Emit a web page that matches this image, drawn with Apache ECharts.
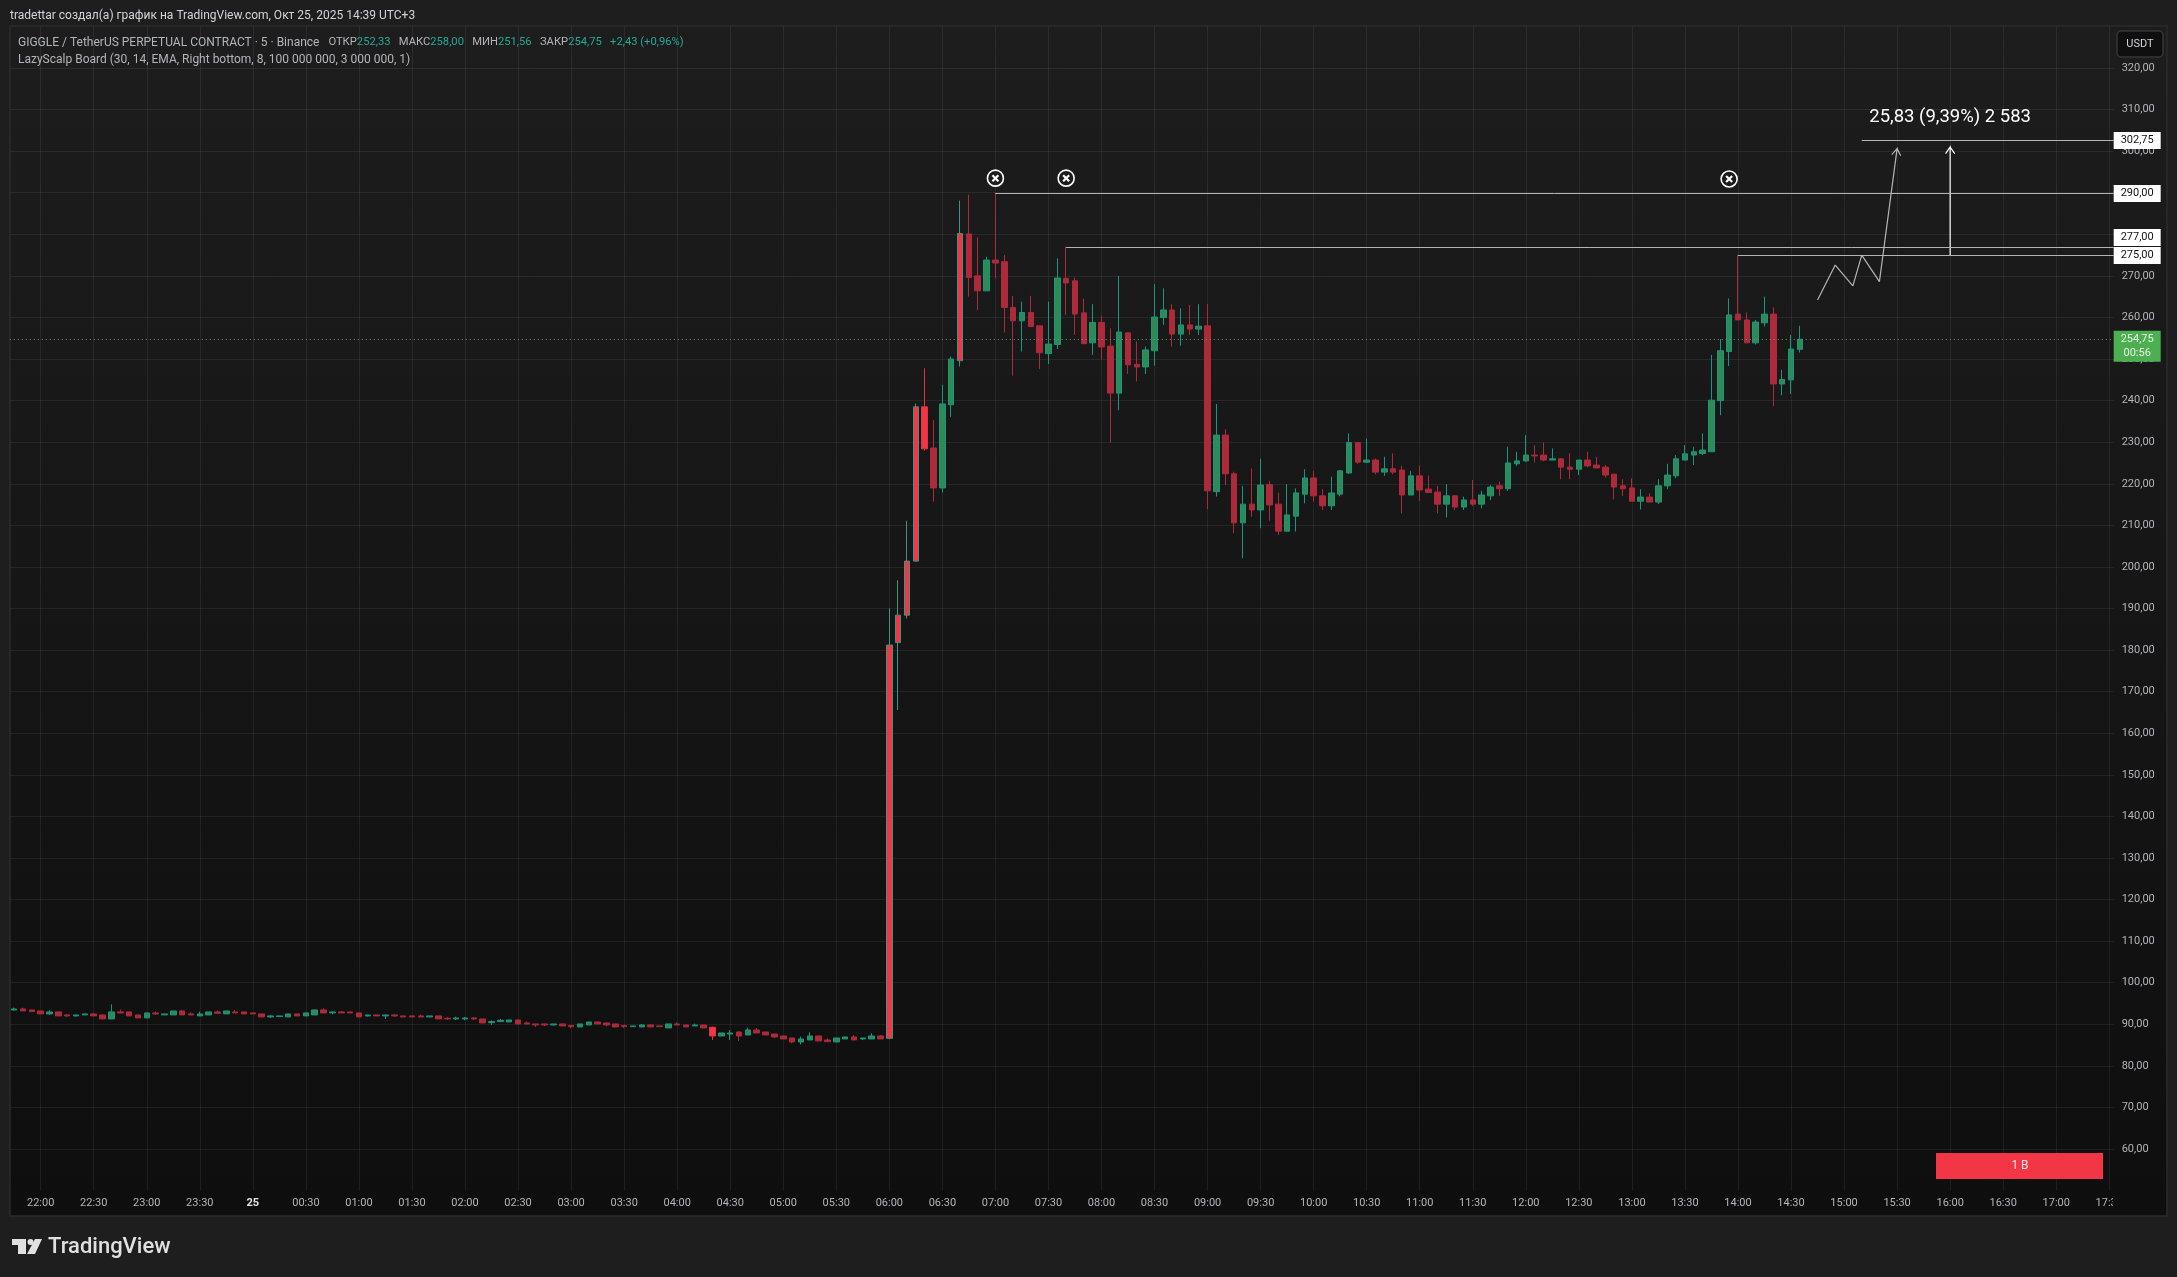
<!DOCTYPE html>
<html>
<head>
<meta charset="utf-8">
<style>
  html, body { margin: 0; padding: 0; background: #1e1e1e; }
  #chart { width: 2177px; height: 1277px; }
</style>
<script src="https://cdn.jsdelivr.net/npm/echarts@6/dist/echarts.min.js"></script>
</head>
<body>
<div id="chart"></div>
<script>
// 5 min bars, first one is 21:45
const barCount = 238
const startMinutes = 21 * 60 + 45

// g up, r down, h bright red, t bright red with teal edge
const barKinds = [
  'g','r','r','r','g','r','r','g','g','r',
  'r','g','r','r','r','g','r','g','g','r',
  'r','g','g','r','g','r','r','r','r','g',
  'g','g','r','g','g','r','g','r','r','r',
  'g','r','g','r','r','r','r','g','r','r',
  'g','g','r','r','g','g','g','r','r','r',
  'r','g','r','r','g','g','r','r','r','r',
  'g','g','r','r','g','r','r','g','r','h',
  'g','g','r','g','r','r','r','r','r','g',
  'g','r','r','g','g','r','g','g','r','t',
  't','t','t','h','r','g','g','t','r','r',
  'g','r','r','r','g','r','r','g','g','r',
  'r','r','g','r','r','g','r','r','g','g',
  'g','r','g','r','g','r','g','r','r','g',
  'r','g','r','r','g','g','g','r','r','g',
  'g','g','r','g','r','g','r','r','g','r',
  'r','r','g','r','g','r','g','g','r','g',
  'g','g','r','r','g','r','r','g','r','r',
  'r','r','r','r','g','r','g','g','g','g',
  'g','g','g','g','g','r','r','g','g','r',
  'g','g','g',
]
const bodyTop = [
  93.69,93.69,93.45,93.21,92.97,92.97,92.25,92.25,92.49,92.49,
  92.25,92.97,92.97,92.97,92.25,92.73,92.73,92.49,93.21,93.21,
  92.49,92.49,92.97,92.97,93.21,92.97,92.97,92.73,92.49,92.01,
  92.01,92.49,92.49,92.73,93.45,93.45,92.97,92.97,92.97,92.73,
  92.25,92.25,92.25,92.25,92.01,92.01,92.01,92.01,92.01,91.45,
  91.52,91.52,91.52,91.28,90.64,90.96,91.04,91.04,90.32,90.08,
  90.08,90.08,90.08,89.68,90.08,90.56,90.56,90.32,90.08,89.68,
  89.6,89.84,89.84,89.6,90.08,90.08,89.84,89.84,89.84,89.28,
  87.91,87.91,88.15,88.63,88.63,88.15,87.67,87.19,86.71,86.47,
  87.19,87.19,86.23,86.71,86.95,86.95,86.71,87.19,87.19,181.2,
  188.4,201.4,238.5,238.5,228.6,239.2,250,280.2,280.1,270,
  273.8,273.8,273.4,262.4,261.2,261.2,258,253.6,269.5,269.4,
  268.8,261.1,258.8,258.8,253.1,256.5,256.3,248.7,252.2,260.1,
  261.8,261.8,258.2,258.2,257.9,258,231.7,231.7,222.4,215.1,
  215.1,219.7,219.8,215.1,212.5,217.8,221.4,221.4,217.1,217.8,
  223.1,229.9,229.9,225.7,225.7,223.6,223.6,223.3,221.9,221.9,
  218.7,218,217.1,217.1,216.1,216.1,217.3,219.2,219.5,225,
  225.5,226.9,226.9,226.9,226,226,224,225.7,225.7,224.5,
  224,222.3,219.5,219,216.8,216.8,219.5,222.1,226,227.2,
  227.7,228.1,240.1,252,260.6,260.8,259.4,258.9,260.8,260.8,
  245.1,252.4,254.75,
]
const bodyBottom = [
  93.45,93.21,93.05,92.49,92.49,92.01,92.01,92.01,92.25,92.01,
  91.29,91.29,92.73,92.01,91.53,91.53,92.49,92.25,92.25,92.25,
  92.25,92.01,92.25,92.65,92.49,92.73,92.49,92.49,91.77,91.77,
  91.85,91.77,92.01,92.01,92.25,92.73,92.73,92.73,92.73,91.77,
  92.01,92.01,92.01,92.01,91.77,91.77,91.77,91.77,91.29,91.29,
  91.28,91.28,91.28,90.32,90.4,90.64,90.56,90.08,90.08,89.84,
  89.84,89.84,89.6,89.44,89.36,89.84,90.08,89.84,89.36,89.44,
  89.44,89.36,89.36,89.44,89.12,89.84,89.36,89.6,89.12,87.19,
  87.19,87.67,87.19,87.43,87.91,87.43,86.95,86.47,85.75,85.75,
  86.23,85.99,85.83,85.75,86.47,86.23,86.47,86.47,86.47,86.63,
  181.8,188.4,201.4,228.4,219,219,239,249.6,269.6,266.4,
  266.4,273.1,262.4,259.2,259.2,257.8,251.5,251.3,253.5,268.3,
  260.8,253.7,253.9,252.9,241.8,241.8,248.6,248.1,248.1,252,
  260,256,256,257.2,257.2,218.3,218.1,222.4,210.6,210.6,
  213.7,213.7,214.9,208.6,208.6,212.2,217.5,217.1,214.7,214.7,
  217.5,222.6,225.2,225.2,222.8,222.8,222.8,217.3,217.3,218.5,
  217.9,215.1,215.1,214.4,214.4,215.1,215.1,217.1,218.8,218.8,
  224.8,225.5,226.7,225.7,225.7,224,223.5,223.5,224.3,223.8,
  222.1,219.2,218.8,215.8,215.8,215.6,215.6,219.5,221.9,225.7,
  226.9,227.3,227.7,240,251.8,259.4,253.9,253.9,258.7,244,
  244,245,252.33,
]
const highs = [
  94.01,94.01,93.45,93.21,93.37,92.97,92.41,92.25,92.49,92.65,
  92.25,94.81,93.53,92.97,92.25,92.73,93.05,92.49,93.21,93.45,
  92.89,93.05,92.97,93.37,93.21,93.45,92.97,92.73,92.49,92.25,
  92.01,92.49,92.49,92.73,93.53,93.85,92.97,93.21,92.97,92.73,
  92.25,92.25,92.25,92.41,92.01,92.01,92.33,92.01,92.01,91.69,
  91.84,91.76,91.76,91.28,90.96,91.28,91.04,91.04,90.64,90.08,
  90.08,90.08,90.08,89.68,90.08,90.56,90.56,90.32,90.08,89.68,
  89.6,90,89.84,89.6,90.08,90.48,89.84,90.16,89.84,89.44,
  87.91,88.63,88.31,89.2,89.12,88.15,87.67,87.19,86.71,87.03,
  88.07,87.19,86.63,86.71,86.95,87.43,86.71,87.83,87.43,190,
  196.8,211.1,239.3,247.8,235.3,243.8,250.6,288.1,289.5,279.3,
  274.6,290,275,265.2,263.8,265.2,258,263.8,274.2,277,
  269.6,264.5,263.2,260.4,257.4,270,256.3,254.2,253,268,
  267,263.2,262.2,263,263.2,263.2,239.2,233.1,222.9,219.5,
  223.7,226,220.7,217.9,219.9,218.9,223.5,223.1,218.7,221.7,
  223.3,232.1,229.9,230.9,226.1,226.5,227.3,224.3,223.1,224.4,
  222,219.5,219.9,217.3,216.9,220.9,218.3,219.7,220.5,228.9,
  227.7,231.7,229.3,229.9,228.5,226.2,227.3,225.7,227.7,226.5,
  224.5,222.4,221.1,221.3,218.7,217.7,221.1,224.8,226.9,229.3,
  228.9,232.1,251,254.8,264.6,275,261.2,259.4,265,262.4,
  247.4,255.8,258,
]
const lows = [
  93.29,93.21,93.05,92.49,92.25,92.01,91.77,91.85,92.25,92.01,
  91.29,91.29,92.65,92.01,91.53,91.53,92.25,92.25,92.25,92.25,
  92.25,92.01,92.25,92.65,92.49,92.73,92.49,92.49,91.77,91.53,
  91.85,91.77,92.01,92.01,92.25,92.73,92.41,92.73,92.73,91.77,
  91.85,92.01,91.29,91.77,91.77,91.77,91.77,91.77,91.29,91.05,
  91.04,90.96,91.04,90.32,89.84,90.64,90.56,90.08,90.08,89.36,
  89.6,89.68,89.6,89.04,89.36,89.84,90.08,89.52,89.36,89.12,
  89.44,89.36,89.36,89.44,89.12,89.84,89.36,89.6,89.12,86.23,
  87.19,86.23,85.99,87.43,87.91,87.43,86.71,86.47,85.43,85.19,
  86.23,85.99,85.83,85.75,86.47,86.23,86.23,86.47,86.47,86.4,
  165.6,187.6,201.3,228,215.7,217.9,236.1,248.2,265,261.8,
  266.4,269.4,256.4,246,251.8,257.8,247.6,248.8,252.4,260.6,
  255.8,253.7,251,249.9,229.9,237.7,246.4,244.6,246.4,248.4,
  258.2,253,253.2,255.8,255.8,213.9,216.9,219.7,208.1,202.1,
  212.1,209.3,211.1,207.7,208.6,208.5,215.3,215.7,213.7,213.7,
  217,222.4,224.8,225,222.3,221.9,222.3,212.9,217.3,215.9,
  217.9,212.9,211.9,213.7,213.7,214.7,214.1,216.1,217.1,218.3,
  224.3,225.3,225.1,225.4,225.7,221.1,221.1,222.1,224,223.8,
  221.5,216.2,217.1,215.8,213.8,215.6,215.1,218.7,221.3,225.7,
  224.5,226.9,227.7,236.5,248.3,259.4,253.9,253.5,257.8,238.7,
  241.3,241.6,251.56,
]

// drawings on the chart
const lastPrice = 254.75
const lastCountdown = '00:56'
const levelStarts = ['07:00', '07:40', '14:00', '15:10']
const levelPrices = [290, 277, 275, 302.75]
const crossTimes = ['07:00', '07:40', '13:55']
const crossPrices = [293.5, 293.5, 293.3]
const zigzagTimes = ['14:45', '14:55', '15:05', '15:10', '15:20']
const zigzagPrices = [264.2, 272.6, 267.6, 275, 268.6]
const arrowFrom = [['15:20', 268.6], ['16:00', 275]]
const arrowTo = [['15:30', 300.6], ['16:00', 301]]
const noteText = '25,83 (9,39%) 2 583'
const noteTime = '16:00'
const notePrice = 308

const priceMin = 50
const priceMax = 330
const priceStep = 10

const font = 'Roboto'
const tvGreen = '#22ab94'
const tvGrey = '#b2b5bc'
const gridColor = 'rgba(255,255,255,0.065)'

function fmtPrice(v) {
  return v.toFixed(2).replace('.', ',')
}

const times = []
for (let i = 0; i < barCount; i++) {
  const m = (startMinutes + i * 5) % 1440
  const hh = String(Math.floor(m / 60)).padStart(2, '0')
  const mm = String(m % 60).padStart(2, '0')
  times.push(hh + ':' + mm)
}
const timeIndex = (t) => times.indexOf(t, 3)

const kindStyle = {
  g: { color: '#2f8a55', color0: '#2f8a55', borderColor: '#17977f', borderColor0: '#17977f' },
  r: { color: '#ad2a3a', color0: '#ad2a3a', borderColor: '#ad2a3a', borderColor0: '#ad2a3a' },
  h: { color: '#f23645', color0: '#f23645', borderColor: '#e23343', borderColor0: '#e23343' },
  t: { color: '#f23645', color0: '#f23645', borderColor: '#3f9384', borderColor0: '#3f9384' },
}

const candles = barKinds.map((k, i) => ({
  // open, close, low, high
  value: k === 'g'
    ? [bodyBottom[i], bodyTop[i], lows[i], highs[i]]
    : [bodyTop[i], bodyBottom[i], lows[i], highs[i]],
  itemStyle: kindStyle[k],
}))

const everyHalfHour = (index) => index % 6 === 3

// horizontal levels with their white tags on the price scale
function renderLevel(params, api) {
  const cs = params.coordSys
  const p = api.coord([api.value(0), api.value(1)])
  const y = Math.round(p[1]) + 0.5
  const right = cs.x + cs.width
  const shift = api.value(1) === 277 ? -10 : 0
  return {
    type: 'group',
    children: [
      { type: 'line', shape: { x1: p[0], y1: y, x2: right, y2: y }, style: { stroke: '#b4b4b4', lineWidth: 1 } },
      { type: 'rect', shape: { x: right, y: y - 8.5 + shift, width: 47, height: 17 }, style: { fill: '#ffffff' } },
      {
        type: 'text',
        style: {
          x: right + 23.5, y: y + shift, text: fmtPrice(api.value(1)), fill: '#111',
          font: '11px ' + font, align: 'center', verticalAlign: 'middle',
        },
      },
    ],
  }
}

function renderCross(params, api) {
  const p = api.coord([api.value(0), api.value(1)])
  const a = 3
  const stroke = { stroke: '#fff', lineWidth: 2.2 }
  return {
    type: 'group',
    x: p[0],
    y: p[1],
    children: [
      { type: 'circle', shape: { cx: 0, cy: 0, r: 8 }, style: { fill: 'transparent', stroke: '#fff', lineWidth: 1.6 } },
      { type: 'line', shape: { x1: -a, y1: -a, x2: a, y2: a }, style: stroke },
      { type: 'line', shape: { x1: -a, y1: a, x2: a, y2: -a }, style: stroke },
    ],
  }
}

function renderArrow(params, api) {
  const a = api.coord([api.value(0), api.value(1)])
  const b = api.coord([api.value(2), api.value(3)])
  const ang = Math.atan2(a[1] - b[1], a[0] - b[0])
  const wing = 8
  const w1 = [b[0] + wing * Math.cos(ang + 0.6), b[1] + wing * Math.sin(ang + 0.6)]
  const w2 = [b[0] + wing * Math.cos(ang - 0.6), b[1] + wing * Math.sin(ang - 0.6)]
  const color = a[0] === b[0] ? '#ffffff' : '#b4b4b4'
  return {
    type: 'polyline',
    shape: { points: [a, b, w1, b, w2] },
    style: { stroke: color, fill: 'none', lineWidth: 1.2 },
  }
}

function renderPriceTag(params, api) {
  const cs = params.coordSys
  const p = api.coord([0, api.value(1)])
  const right = cs.x + cs.width
  const top = p[1] - 8.5
  return {
    type: 'group',
    children: [
      { type: 'rect', shape: { x: right, y: top, width: 47, height: 31 }, style: { fill: '#4caf50' } },
      { type: 'text', style: { x: right + 23.5, y: top + 8, text: fmtPrice(api.value(1)), fill: '#e8f5e9', font: '11px ' + font, align: 'center', verticalAlign: 'middle' } },
      { type: 'text', style: { x: right + 23.5, y: top + 22, text: lastCountdown, fill: '#e8f5e9', font: '11px ' + font, align: 'center', verticalAlign: 'middle' } },
    ],
  }
}

function renderNote(params, api) {
  const p = api.coord([api.value(0), api.value(1)])
  return {
    type: 'text',
    style: { x: p[0], y: p[1], text: noteText, fill: '#ffffff', font: '18.5px ' + font, align: 'center', verticalAlign: 'middle' },
  }
}

const option = {
  animation: false,
  backgroundColor: '#1e1e1e',
  textStyle: { fontFamily: font },
  grid: { left: 9.76, top: 26.4, width: 2103.92, height: 1164.2, containLabel: false },
  xAxis: {
    type: 'category',
    data: times,
    boundaryGap: true,
    axisLine: { show: false },
    axisTick: { show: false },
    axisLabel: {
      interval: everyHalfHour,
      margin: 7,
      color: tvGrey,
      fontSize: 11,
      fontFamily: font,
      formatter: (v) => (v === '00:00' ? '{day|25}' : v),
      rich: { day: { color: '#e4e4e4', fontWeight: 'bold', fontSize: 11, fontFamily: font } },
    },
    splitLine: { show: true, interval: everyHalfHour, alignWithLabel: true, lineStyle: { color: gridColor, width: 1 } },
  },
  yAxis: {
    type: 'value',
    position: 'right',
    min: priceMin,
    max: priceMax,
    interval: priceStep,
    axisLine: { show: false },
    axisTick: { show: false },
    axisLabel: {
      margin: 8,
      color: tvGrey,
      fontSize: 11,
      fontFamily: font,
      showMinLabel: false,
      showMaxLabel: false,
      formatter: (v) => fmtPrice(v),
    },
    splitLine: { show: true, showMinLine: false, showMaxLine: false, lineStyle: { color: gridColor, width: 1 } },
  },
  series: [
    {
      type: 'candlestick',
      barWidth: 6,
      data: candles,
      itemStyle: { borderWidth: 1 },
      markLine: {
        silent: true,
        symbol: 'none',
        label: { show: false },
        lineStyle: { type: [1, 3], color: '#6f9a74', width: 1 },
        data: [{ yAxis: lastPrice }],
      },
      z: 3,
    },
    {
      type: 'line',
      data: zigzagTimes.map((t, i) => [timeIndex(t), zigzagPrices[i]]),
      showSymbol: false,
      symbol: 'none',
      lineStyle: { color: '#b4b4b4', width: 1.2 },
      z: 4,
    },
    {
      type: 'custom',
      renderItem: renderArrow,
      encode: { x: [0, 2], y: [1, 3] },
      data: arrowFrom.map((f, i) => [timeIndex(f[0]), f[1], timeIndex(arrowTo[i][0]), arrowTo[i][1]]),
      z: 4,
    },
    {
      type: 'custom',
      renderItem: renderLevel,
      encode: { x: 0, y: 1 },
      data: levelStarts.map((t, i) => [timeIndex(t), levelPrices[i]]),
      z: 5,
    },
    {
      type: 'custom',
      renderItem: renderCross,
      encode: { x: 0, y: 1 },
      data: crossTimes.map((t, i) => [timeIndex(t), crossPrices[i]]),
      z: 5,
    },
    {
      type: 'custom',
      renderItem: renderPriceTag,
      encode: { x: 0, y: 1 },
      data: [[0, lastPrice]],
      z: 5,
    },
    {
      type: 'custom',
      renderItem: renderNote,
      encode: { x: 0, y: 1 },
      data: [[timeIndex(noteTime), notePrice]],
      z: 5,
    },
  ],
  graphic: [
    // panel
    {
      type: 'rect',
      z: -10,
      silent: true,
      shape: { x: 10, y: 26, width: 2157, height: 1190 },
      style: {
        fill: {
          type: 'linear', x: 0, y: 0, x2: 0, y2: 1,
          colorStops: [
            { offset: 0, color: '#1d1d1d' },
            { offset: 1, color: '#0e0e0e' },
          ],
        },
        stroke: '#2b2b2b',
        lineWidth: 1.5,
      },
    },
    // cuts the last time label at the price scale
    {
      type: 'rect',
      z: 50,
      silent: true,
      shape: { x: 2113, y: 1192, width: 53, height: 23 },
      style: { fill: '#0e0e0e' },
    },
    {
      type: 'text',
      z: 60,
      style: {
        x: 10, y: 15.5, text: 'tradettar создал(а) график на TradingView.com, Окт 25, 2025 14:39 UTC+3',
        fill: '#d1d4dc', font: '12px ' + font, verticalAlign: 'middle',
      },
    },
    {
      type: 'text',
      z: 60,
      style: {
        x: 18, y: 42.5,
        text: '{h|GIGGLE / TetherUS PERPETUAL CONTRACT · 5 · Binance   }ОТКР{v|252,33}   МАКС{v|258,00}   МИН{v|251,56}   ЗАКР{v|254,75}   {v|+2,43 (+0,96%)}',
        fill: tvGrey,
        font: '11.2px ' + font,
        verticalAlign: 'middle',
        rich: {
          h: { fill: tvGrey, font: '12px ' + font },
          v: { fill: tvGreen, font: '11.2px ' + font },
        },
      },
    },
    {
      type: 'text',
      z: 60,
      style: {
        x: 18, y: 59.5, text: 'LazyScalp Board (30, 14, EMA, Right bottom, 8, 100 000 000, 3 000 000, 1)',
        fill: tvGrey, font: '12px ' + font, verticalAlign: 'middle',
      },
    },
    // USDT button
    {
      type: 'rect',
      z: 60,
      shape: { x: 2117, y: 31, width: 46, height: 26, r: 4 },
      style: { fill: '#0f0f0f', stroke: '#363636', lineWidth: 1.5 },
    },
    {
      type: 'text',
      z: 61,
      style: { x: 2140, y: 44.5, text: 'USDT', fill: '#d1d4dc', font: '11px ' + font, align: 'center', verticalAlign: 'middle' },
    },
    // red volume button
    {
      type: 'rect',
      z: 60,
      shape: { x: 1936, y: 1153, width: 167, height: 26 },
      style: { fill: '#f23645' },
    },
    {
      type: 'text',
      z: 61,
      style: { x: 2020, y: 1166, text: '1 В', fill: '#f5e6e8', font: '12px ' + font, align: 'center', verticalAlign: 'middle' },
    },
    // TradingView logo
    {
      type: 'polygon',
      z: 60,
      shape: { points: [[12, 1239], [26, 1239], [26, 1254], [18, 1254], [18, 1245], [12, 1245]] },
      style: { fill: '#e0e0e0' },
    },
    { type: 'circle', z: 60, shape: { cx: 30.5, cy: 1242, r: 3 }, style: { fill: '#e0e0e0' } },
    {
      type: 'polygon',
      z: 60,
      shape: { points: [[35, 1239], [42, 1239], [35, 1254], [27, 1254]] },
      style: { fill: '#e0e0e0' },
    },
    {
      type: 'text',
      z: 60,
      style: { x: 48, y: 1247, text: 'TradingView', fill: '#e0e0e0', font: '500 22px ' + font, verticalAlign: 'middle' },
    },
  ],
}

const chart = echarts.init(document.getElementById('chart'), null, { renderer: 'canvas' })
chart.setOption(option)
</script>
</body>
</html>
